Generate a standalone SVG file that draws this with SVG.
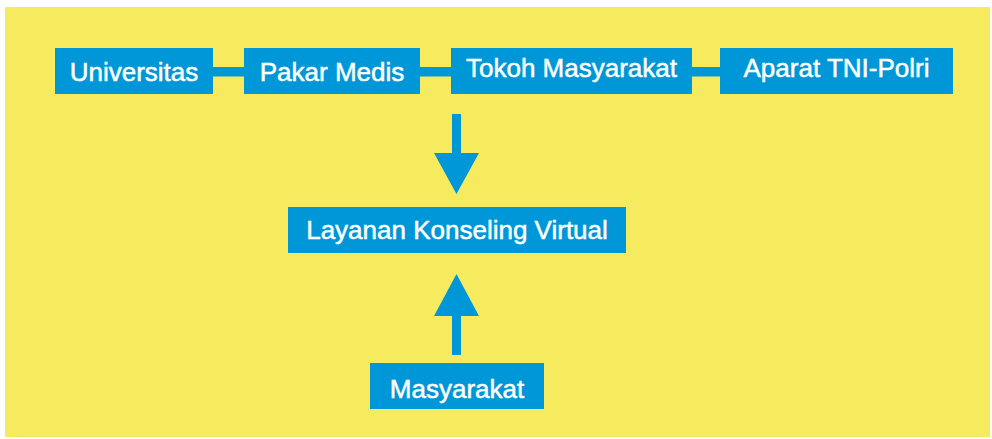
<svg xmlns="http://www.w3.org/2000/svg" width="992" height="439" viewBox="0 0 992 439">
<style>
.box{fill:#0097D8}
.lbl{font-family:"Liberation Sans",Arial,sans-serif;font-size:26px;fill:#FFFFFF;stroke:#FFFFFF;stroke-width:0.5;text-anchor:middle}
.conn{fill:#0097D8}
</style>
<rect x="0" y="0" width="992" height="439" fill="#FFFFFF"/>
<rect x="5" y="7" width="985" height="430" fill="#F6EB5F"/>
<g id="connectors">
<rect class="conn" x="212" y="67" width="33" height="9.5"/>
<rect class="conn" x="419" y="67" width="33" height="9.5"/>
<rect class="conn" x="691" y="67" width="30" height="9.5"/>
<polygon class="conn" points="452,114 461,114 461,153 479,153 456.5,194 434,153 452,153"/>
<polygon class="conn" points="452,355 461,355 461,316 479,316 456.5,274 434,316 452,316"/>
</g>
<g id="universitas"><rect class="box" x="55" y="48" width="158" height="46"/><text class="lbl" x="134" y="81">Universitas</text></g>
<g id="pakar-medis"><rect class="box" x="244" y="48" width="176" height="46"/><text class="lbl" x="332" y="81">Pakar Medis</text></g>
<g id="tokoh-masyarakat"><rect class="box" x="451" y="48" width="241" height="46"/><text class="lbl" x="571.5" y="77">Tokoh Masyarakat</text></g>
<g id="aparat"><rect class="box" x="720" y="48" width="233" height="46"/><text class="lbl" x="836.5" y="77">Aparat TNI-Polri</text></g>
<g id="layanan"><rect class="box" x="288" y="207" width="338" height="46"/><text class="lbl" x="457" y="238.5">Layanan Konseling Virtual</text></g>
<g id="masyarakat"><rect class="box" x="370" y="363" width="174" height="46"/><text class="lbl" x="457" y="398">Masyarakat</text></g>
</svg>
